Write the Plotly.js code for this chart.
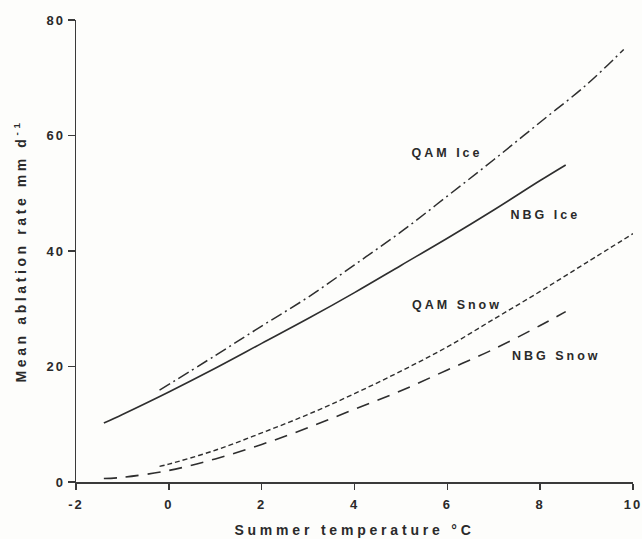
<!DOCTYPE html>
<html>
<head>
<meta charset="utf-8">
<script src="https://cdn.plot.ly/plotly-3.0.1.min.js"></script>
<style>
  html, body { margin: 0; padding: 0; background: #fdfdfb; }
  #chart { width: 642px; height: 539px; }
  .js-plotly-plot .xtitle { letter-spacing: 3.8px; }
  .js-plotly-plot .ytitle { letter-spacing: 3.6px; }
  .js-plotly-plot .xtick text, .js-plotly-plot .ytick text { letter-spacing: 2px; }
  .js-plotly-plot .annotation-text { letter-spacing: 3px; }
</style>
</head>
<body>
<div id="chart"></div>
<script>
// Summer temperature (°C) vs mean ablation rate (mm d^-1)
const qamIceT   = [-0.2, 1, 2, 3, 4, 5, 6, 7, 8, 9, 9.8];
const qamIceA   = [15.9, 21.9, 27.0, 32.0, 37.6, 43.3, 49.5, 55.8, 62.3, 68.8, 74.9];

const nbgIceT   = [-1.4, -1, 0, 1, 2, 3, 4, 5, 6, 7, 8, 8.55];
const nbgIceA   = [10.2, 11.7, 15.6, 19.7, 24.0, 28.3, 32.8, 37.5, 42.2, 47.1, 52.2, 54.9];

const qamSnowT  = [-0.2, 0, 1, 2, 3, 4, 5, 6, 7, 8, 9, 10];
const qamSnowA  = [2.7, 3.1, 5.5, 8.5, 11.7, 15.3, 19.2, 23.4, 28.2, 33.0, 38.0, 43.0];

const nbgSnowT  = [-1.4, -1, 0, 1, 2, 3, 4, 5, 6, 7, 8, 8.55];
const nbgSnowA  = [0.6, 0.8, 2.0, 4.0, 6.5, 9.4, 12.6, 15.8, 19.4, 23.0, 27.1, 29.5];

const labelText = ["QAM Ice", "NBG Ice", "QAM Snow", "NBG Snow"];
const labelX    = [5.99, 8.12, 6.21, 8.36];
const labelY    = [57.0, 46.3, 30.7, 21.9];

const xTicks = [-2, 0, 2, 4, 6, 8, 10];
const yTicks = [0, 20, 40, 60, 80];

const lineColor = '#2e2e2e';
const fontFam = 'Arial, "Liberation Sans", Helvetica, sans-serif';

const traces = [
  { x: qamIceT, y: qamIceA, mode: 'lines', line: { color: lineColor, width: 1.5, dash: '12px,4px,2px,4px', shape: 'spline' }, name: 'QAM Ice' },
  { x: nbgIceT, y: nbgIceA, mode: 'lines', line: { color: lineColor, width: 1.6, shape: 'spline' }, name: 'NBG Ice' },
  { x: qamSnowT, y: qamSnowA, mode: 'lines', line: { color: lineColor, width: 1.4, dash: '5px,3px', shape: 'spline' }, name: 'QAM Snow' },
  { x: nbgSnowT, y: nbgSnowA, mode: 'lines', line: { color: lineColor, width: 1.6, dash: '13px,9px', shape: 'spline' }, name: 'NBG Snow' }
];

const annotations = labelText.map((t, i) => ({
  x: labelX[i], y: labelY[i], xref: 'x', yref: 'y', text: t, showarrow: false,
  font: { family: fontFam, size: 12.5, color: '#2a2a2a', weight: 'bold' },
  xanchor: 'center', yanchor: 'middle'
}));

const layout = {
  width: 642, height: 539,
  margin: { l: 76, r: 9, t: 20, b: 57 },
  paper_bgcolor: '#fdfdfb', plot_bgcolor: '#fdfdfb',
  showlegend: false,
  xaxis: {
    range: [-2, 10], tickvals: xTicks, ticktext: xTicks.map(String),
    showline: true, linecolor: '#3a3a3a', linewidth: 1.5,
    ticks: 'outside', ticklen: 6, tickwidth: 1.5, tickcolor: '#3a3a3a',
    ticklabelstandoff: 4,
    showgrid: false, zeroline: false,
    tickfont: { family: fontFam, size: 13, color: '#2a2a2a', weight: 'bold' },
    title: { text: 'Summer temperature °C', font: { family: fontFam, size: 14, color: '#2a2a2a', weight: 'bold' }, standoff: 14 }
  },
  yaxis: {
    range: [0, 80], tickvals: yTicks, ticktext: yTicks.map(String),
    showline: true, linecolor: '#3a3a3a', linewidth: 1.5,
    ticks: 'outside', ticklen: 7, tickwidth: 1.5, tickcolor: '#3a3a3a',
    showgrid: false, zeroline: false,
    tickfont: { family: fontFam, size: 13, color: '#2a2a2a', weight: 'bold' },
    title: { text: 'Mean ablation rate mm d<sup>-1</sup>', font: { family: fontFam, size: 14, color: '#2a2a2a', weight: 'bold' }, standoff: 20 }
  },
  annotations: annotations
};

Plotly.newPlot('chart', traces, layout, { displayModeBar: false, staticPlot: true });
</script>
</body>
</html>
